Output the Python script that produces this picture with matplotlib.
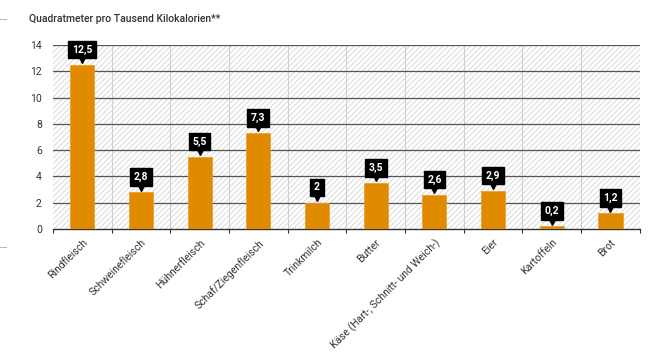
import matplotlib
matplotlib.use("Agg")
import matplotlib.pyplot as plt
from matplotlib.patches import Rectangle
from matplotlib.lines import Line2D
import numpy as np

categories = ["Rindfleisch", "Schweinefleisch", "Hühnerfleisch", "Schaf/Ziegenfleisch",
              "Trinkmilch", "Butter", "Käse (Hart-, Schnitt- und Weich-)", "Eier",
              "Kartoffeln", "Brot"]
values = [12.5, 2.8, 5.5, 7.3, 2.0, 3.5, 2.6, 2.9, 0.2, 1.2]
labels = ["12,5", "2,8", "5,5", "7,3", "2", "3,5", "2,6", "2,9", "0,2", "1,2"]
yticks = [0, 2, 4, 6, 8, 10, 12, 14]

plt.rcParams['font.family'] = ['Roboto', 'DejaVu Sans']
plt.rcParams['hatch.color'] = '#d9d9d9'
plt.rcParams['hatch.linewidth'] = 0.7

fig = plt.figure(figsize=(6.61, 3.54), dpi=100)
ax = fig.add_axes([0.080, 0.353, 0.888, 0.520])

n = len(categories)
x = np.arange(n)
ax.set_xlim(-0.5, n - 0.5)
ax.set_ylim(0, 14)

# hatched background
bg = Rectangle((0, 0), 1, 1, transform=ax.transAxes, facecolor='white',
               edgecolor='#d9d9d9', hatch='//////', linewidth=0, zorder=0)
ax.add_patch(bg)

# vertical grid at category boundaries
for b in np.arange(0.5, n - 0.5, 1):
    ax.axvline(b, color='#d0d0d0', linewidth=0.8, zorder=1)
# horizontal grid
for t in yticks[1:]:
    ax.axhline(t, color='#555555', linewidth=0.9, zorder=1)

ax.bar(x, values, width=0.41, color='#E08A00', edgecolor='#F0A030', linewidth=0.6, zorder=3)

offset = matplotlib.transforms.ScaledTranslation(0, 4.0/72, fig.dpi_scale_trans)
for xi, v, lab in zip(x, values, labels):
    ax.annotate(lab, xy=(xi, v), xytext=(0, 11), textcoords='offset points',
                ha='center', va='center', color='white', fontsize=7.5, fontweight='bold',
                bbox=dict(boxstyle='square,pad=0.35', facecolor='black', edgecolor='black'),
                zorder=5)
    ax.plot([xi], [v], marker='v', markersize=6, color='black', zorder=5,
            transform=ax.transData + offset)

for s in ['top', 'right']:
    ax.spines[s].set_visible(False)
ax.spines['left'].set_visible(False)
ax.spines['bottom'].set_color('#333333')
ax.spines['bottom'].set_linewidth(1.0)

ax.set_yticks(yticks)
ax.set_yticklabels([str(t) for t in yticks], fontsize=7.5, color='#333333')
ax.tick_params(axis='y', length=0, pad=8)

ax.set_xticks(np.arange(-0.5, n, 1), minor=False)
ax.set_xticklabels([])
ax.tick_params(axis='x', which='major', length=3, color='#333333', direction='out')
ax.set_xticks(x, minor=True)
ax.set_xticklabels(categories, minor=True, rotation=45, ha='right', va='top',
                   rotation_mode='anchor', fontsize=7.5, color='#333333')
ax.tick_params(axis='x', which='minor', length=0, pad=6)

fig.text(29/661, 1 - 19/354, "Quadratmeter pro Tausend Kilokalorien**", fontsize=7.5,
         color='#333333', ha='left', va='center', fontweight='medium')

# small grey marks at the left edge
for yy in (19, 247):
    fig.add_artist(Line2D([0, 6/661], [1 - yy/354, 1 - yy/354], color='#bbbbbb',
                          linewidth=0.8, transform=fig.transFigure))

fig.savefig("out.png", dpi=100)
